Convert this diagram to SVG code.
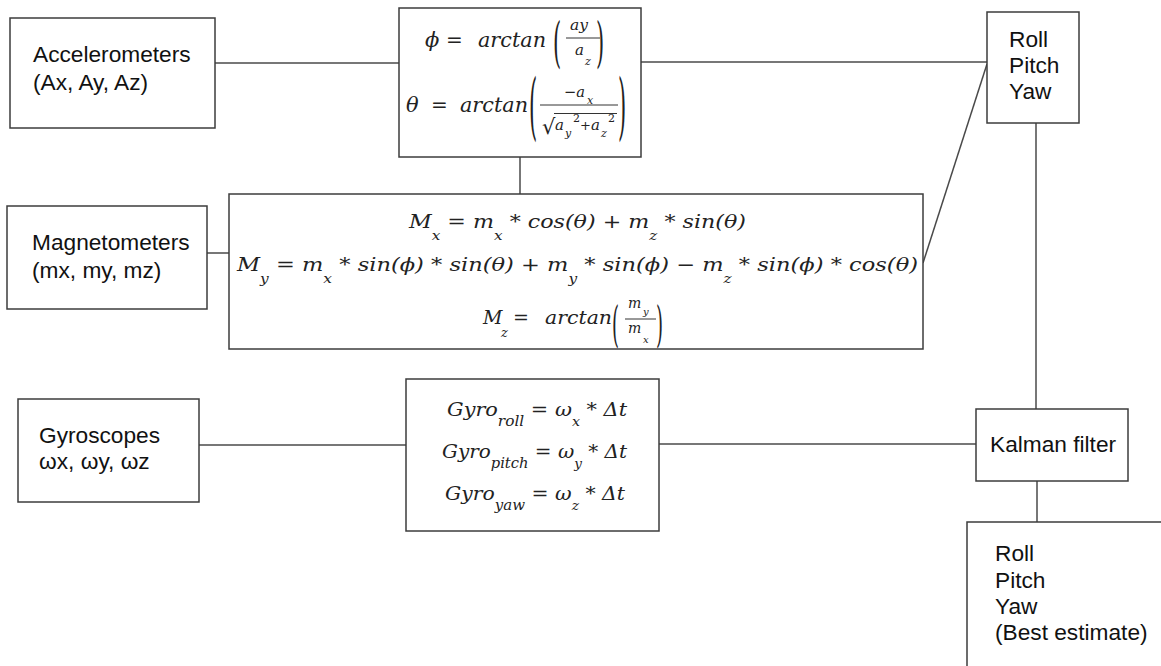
<svg xmlns="http://www.w3.org/2000/svg" width="1161" height="666" viewBox="0 0 1161 666">
<style>
.box{fill:#fff;stroke:#3c3c3c;stroke-width:1.5}
.ln{stroke:#4a4a4a;stroke-width:1.5;fill:none}
.lab{font-family:"Liberation Sans",Arial,sans-serif;font-size:22.7px;fill:#111}
.m{font-family:"DejaVu Serif",serif;font-style:italic;fill:#222}
.up{font-family:"DejaVu Serif",serif;font-style:normal;fill:#222}
.fl{stroke:#333;stroke-width:1}
</style>
<rect width="1161" height="666" fill="#fff"/>
<g id="connectors">
<line class="ln" x1="215" y1="63" x2="399" y2="63"/>
<line class="ln" x1="641" y1="62" x2="987" y2="62"/>
<line class="ln" x1="520" y1="157" x2="520" y2="194"/>
<line class="ln" x1="207" y1="253" x2="229" y2="253"/>
<line class="ln" x1="923" y1="263" x2="987" y2="64" stroke-width="1.2"/>
<line class="ln" x1="1036" y1="123" x2="1036" y2="409"/>
<line class="ln" x1="199" y1="445" x2="406" y2="445"/>
<line class="ln" x1="659" y1="444" x2="976" y2="444"/>
<line class="ln" x1="1037" y1="481" x2="1037" y2="522"/>
</g>
<g id="accelerometers">
<rect class="box" x="10" y="18" width="205" height="110"/>
<text class="lab" x="33" y="62">Accelerometers</text>
<text class="lab" x="33" y="90">(Ax, Ay, Az)</text>
</g>
<g id="magnetometers">
<rect class="box" x="7" y="206" width="200" height="103"/>
<text class="lab" x="32" y="250">Magnetometers</text>
<text class="lab" x="32" y="278">(mx, my, mz)</text>
</g>
<g id="gyroscopes">
<rect class="box" x="18" y="399" width="181" height="103"/>
<text class="lab" x="39" y="443">Gyroscopes</text>
<text class="lab" x="39" y="469">ωx, ωy, ωz</text>
</g>
<g id="accel-formula">
<rect class="box" x="399" y="8" width="242" height="149"/>
<text class="m" x="425" y="47" font-size="21">ϕ</text>
<text class="up" x="446" y="47" font-size="20">=</text>
<text class="m" x="478" y="47" font-size="20" textLength="68" lengthAdjust="spacingAndGlyphs">arctan</text>
<text class="up" font-size="21" transform="translate(553,61) scale(1,2.57)">(</text>
<text class="m" x="570" y="30" font-size="15" textLength="18" lengthAdjust="spacingAndGlyphs">ay</text>
<line class="fl" x1="566" y1="38" x2="600" y2="38"/>
<text class="m" x="575" y="55" font-size="15">a</text>
<text class="m" x="585" y="65" font-size="11">z</text>
<text class="up" font-size="21" transform="translate(596,61) scale(1,2.57)">)</text>
<text class="m" x="406" y="112" font-size="21">θ</text>
<text class="up" x="431" y="112" font-size="20">=</text>
<text class="m" x="460" y="112" font-size="20" textLength="68" lengthAdjust="spacingAndGlyphs">arctan</text>
<text class="up" font-size="21" transform="translate(529,130.5) scale(1,3.48)">(</text>
<text class="m" x="564" y="97" font-size="15" textLength="21" lengthAdjust="spacingAndGlyphs">−a</text>
<text class="m" x="587" y="104" font-size="11">x</text>
<line class="fl" x1="540" y1="105" x2="618" y2="105"/>
<text class="up" x="542" y="134" font-size="21">√</text>
<line class="fl" x1="554" y1="113.5" x2="617" y2="113.5"/>
<text class="m" x="555" y="130" font-size="15">a</text>
<text class="m" x="565" y="137" font-size="11">y</text>
<text class="up" x="573" y="122" font-size="11">2</text>
<text class="up" x="580" y="130" font-size="13">+</text>
<text class="m" x="591" y="130" font-size="15">a</text>
<text class="m" x="601" y="137" font-size="11">z</text>
<text class="up" x="608" y="122" font-size="11">2</text>
<text class="up" font-size="21" transform="translate(618,130.5) scale(1,3.48)">)</text>
</g>
<g id="mag-formula">
<rect class="box" x="229" y="194" width="694" height="155"/>
<text class="m" font-size="19" x="577.5" y="228" text-anchor="middle" textLength="337" lengthAdjust="spacingAndGlyphs">M<tspan dy="12" font-size="13">x</tspan><tspan dy="-12"> = m</tspan><tspan dy="12" font-size="13">x</tspan><tspan dy="-12"> * cos(θ) + m</tspan><tspan dy="12" font-size="13">z</tspan><tspan dy="-12"> * sin(θ)</tspan></text>
<text class="m" font-size="19" x="577.5" y="271" text-anchor="middle" textLength="681" lengthAdjust="spacingAndGlyphs">M<tspan dy="12" font-size="13">y</tspan><tspan dy="-12"> = m</tspan><tspan dy="12" font-size="13">x</tspan><tspan dy="-12"> * sin(ϕ) * sin(θ) + m</tspan><tspan dy="12" font-size="13">y</tspan><tspan dy="-12"> * sin(ϕ) − m</tspan><tspan dy="12" font-size="13">z</tspan><tspan dy="-12"> * sin(ϕ) * cos(θ)</tspan></text>
<text class="m" font-size="19" x="483" y="324">M</text>
<text class="m" x="501" y="337" font-size="13">z</text>
<text class="up" font-size="19" x="513" y="324">=</text>
<text class="m" font-size="19" x="545" y="324" textLength="67" lengthAdjust="spacingAndGlyphs">arctan</text>
<text class="up" font-size="18" transform="translate(612,340.5) scale(1,2.68)">(</text>
<text class="m" x="628" y="308" font-size="14">m</text>
<text class="m" x="643" y="315" font-size="10">y</text>
<line class="fl" x1="625" y1="319" x2="656" y2="319"/>
<text class="m" x="628" y="333" font-size="14">m</text>
<text class="m" x="643" y="343" font-size="10">x</text>
<text class="up" font-size="18" transform="translate(656,340.5) scale(1,2.68)">)</text>
</g>
<g id="gyro-formula">
<rect class="box" x="406" y="379" width="253" height="152"/>
<text class="m" font-size="19" x="537" y="416" text-anchor="middle" textLength="180" lengthAdjust="spacingAndGlyphs">Gyro<tspan dy="10" font-size="14">roll</tspan><tspan dy="-10"> = ω</tspan><tspan dy="10" font-size="13">x</tspan><tspan dy="-10"> * Δt</tspan></text>
<text class="m" font-size="19" x="534.5" y="458" text-anchor="middle" textLength="185" lengthAdjust="spacingAndGlyphs">Gyro<tspan dy="10" font-size="14">pitch</tspan><tspan dy="-10"> = ω</tspan><tspan dy="10" font-size="13">y</tspan><tspan dy="-10"> * Δt</tspan></text>
<text class="m" font-size="19" x="535" y="500" text-anchor="middle" textLength="180" lengthAdjust="spacingAndGlyphs">Gyro<tspan dy="10" font-size="14">yaw</tspan><tspan dy="-10"> = ω</tspan><tspan dy="10" font-size="13">z</tspan><tspan dy="-10"> * Δt</tspan></text>
</g>
<g id="roll-pitch-yaw">
<rect class="box" x="987" y="12" width="92" height="111"/>
<text class="lab" x="1009" y="47">Roll</text>
<text class="lab" x="1009" y="73">Pitch</text>
<text class="lab" x="1009" y="99">Yaw</text>
</g>
<g id="kalman">
<rect class="box" x="976" y="409" width="152" height="72"/>
<text class="lab" x="990" y="452">Kalman filter</text>
</g>
<g id="best-estimate">
<rect class="box" x="967" y="522" width="260" height="200"/>
<text class="lab" x="995" y="561">Roll</text>
<text class="lab" x="995" y="588">Pitch</text>
<text class="lab" x="995" y="614">Yaw</text>
<text class="lab" x="995" y="640">(Best estimate)</text>
</g>
</svg>
